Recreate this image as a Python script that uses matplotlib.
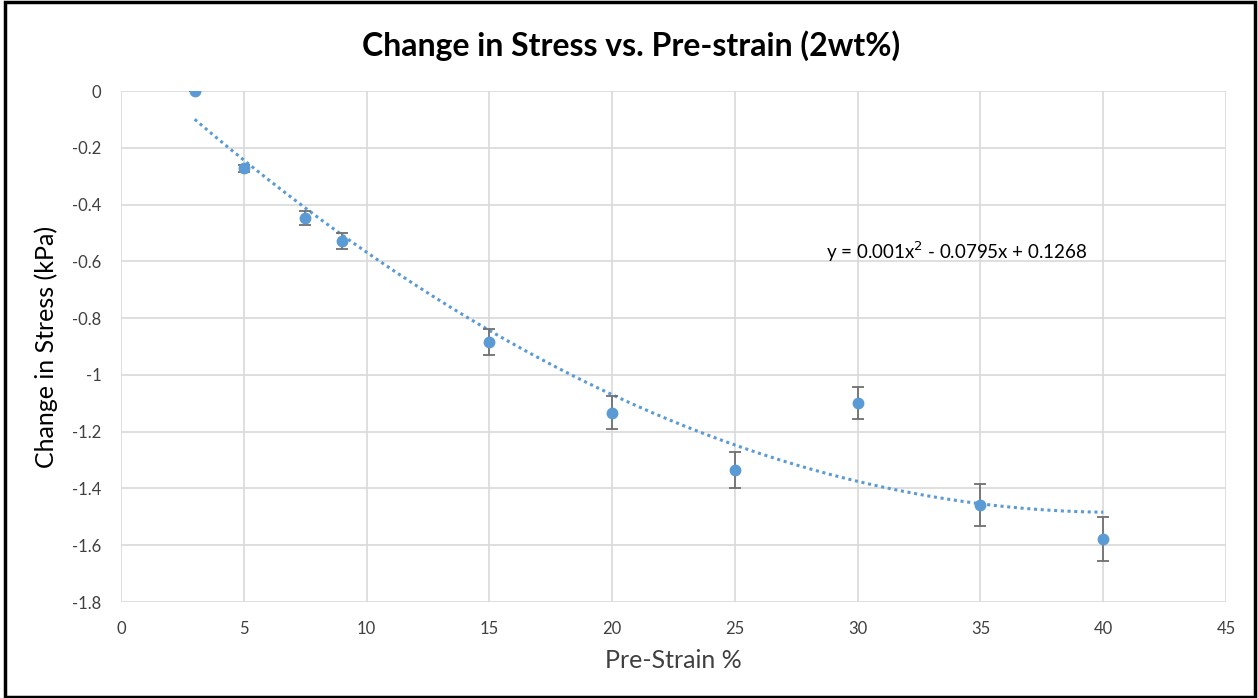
import numpy as np
import matplotlib.pyplot as plt
from matplotlib.patches import Rectangle

plt.rcParams['font.family'] = ['Lato', 'DejaVu Sans']

# Data
pre_strain = [3, 5, 7.5, 9, 15, 20, 25, 30, 35, 40]
stress_change = [0.0, -0.272, -0.448, -0.527, -0.885, -1.133, -1.335, -1.098, -1.458, -1.578]
stress_err = [0.0, 0.012, 0.025, 0.028, 0.045, 0.058, 0.064, 0.057, 0.075, 0.078]
trend_label = 'y = 0.001x$^2$ - 0.0795x + 0.1268'

blue = '#5B9BD5'
grey_text = '#404040'

fig = plt.figure(figsize=(12.58, 6.98), dpi=100)
ax = fig.add_axes([0.0962, 0.1375, 0.8784, 0.7321])

# polynomial trendline (order 2) fitted to the data, like Excel does
coef = np.polyfit(pre_strain, stress_change, 2)
xs = np.linspace(min(pre_strain), max(pre_strain), 200)
ax.plot(xs, np.polyval(coef, xs), linestyle=(0, (1, 1.2)), color=blue, linewidth=2.2, zorder=2)

ax.errorbar(pre_strain, stress_change, yerr=stress_err, fmt='o', color=blue,
            markersize=7.5, ecolor='#707070', elinewidth=1.3, capsize=4, capthick=1.3, zorder=3)

ax.set_xlim(0, 45)
ax.set_ylim(-1.8, 0)
ax.set_xticks(np.arange(0, 46, 5))
ax.set_yticks(np.arange(-1.8, 0.01, 0.2))
ax.set_yticklabels(['-1.8', '-1.6', '-1.4', '-1.2', '-1', '-0.8', '-0.6', '-0.4', '-0.2', '0'])
ax.grid(True, color='#d9d9d9', linewidth=1.2)
ax.set_axisbelow(True)
for s in ax.spines.values():
    s.set_visible(False)
ax.tick_params(length=0, labelsize=12, colors=grey_text, pad=14)

fig.text(0.502, 0.934, 'Change in Stress vs. Pre-strain (2wt%)', fontsize=23,
         fontweight='bold', ha='center', va='center')
ax.set_xlabel('Pre-Strain %', fontsize=18, color=grey_text, labelpad=8)
ax.set_ylabel('Change in Stress (kPa)', fontsize=18, color='black', labelpad=10)

ax.text(28.7, -0.567, trend_label, fontsize=13.5, color='black', va='center')

fig.patches.append(Rectangle((0.004, 0.002), 0.994, 0.995, transform=fig.transFigure,
                             fill=False, edgecolor='black', linewidth=2.5))

fig.savefig('out.png', dpi=100)
